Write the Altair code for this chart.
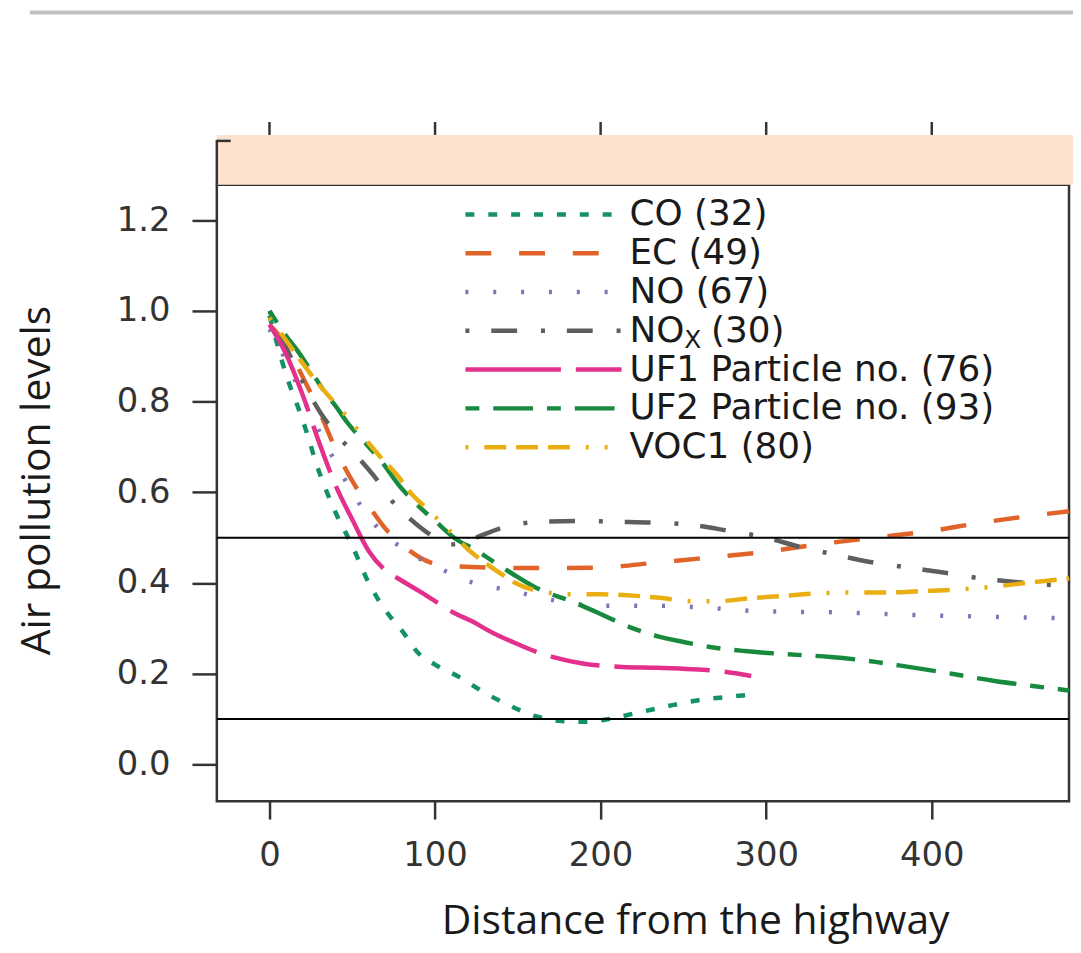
import altair as alt
import pandas as pd

# ---------------- data ----------------
SERIES = ["CO", "EC", "NO", "NOx", "UF1", "UF2", "VOC1"]
LABELS = ["CO (32)", "EC (49)", "NO (67)", "NO", "UF1 Particle no. (76)",
          "UF2 Particle no. (93)", "VOC1 (80)"]
COLORS = ["#14916c", "#e0642a", "#7b76b8", "#5e5e5e", "#e3308c", "#178a3e", "#e8ae12"]
DASHES = [[9, 14], [26, 28], [3, 25], [4, 22, 26, 24], [96, 15, 50, 15],
          [14, 14, 40, 14], [3, 16, 22, 10, 22, 10, 22, 16, 3, 16]]

CO_x = [0, 10, 20, 30, 40, 50, 60, 70, 80, 90, 100, 115, 130, 145, 160, 175, 190, 205, 220, 240, 260, 280, 295]
CO_y = [0.99, 0.86, 0.76, 0.645, 0.555, 0.482, 0.40, 0.34, 0.295, 0.245, 0.22, 0.192, 0.158, 0.13, 0.107, 0.096,
        0.094, 0.10, 0.112, 0.128, 0.142, 0.15, 0.155]

EC_x = [0, 10, 20, 30, 40, 50, 60, 70, 80, 90, 103, 132, 166, 198, 234, 265, 300, 331, 365, 396, 430, 464, 483]
EC_y = [0.97, 0.925, 0.855, 0.78, 0.695, 0.625, 0.57, 0.52, 0.485, 0.458, 0.44, 0.434, 0.433, 0.434, 0.445,
        0.456, 0.469, 0.485, 0.5, 0.513, 0.533, 0.55, 0.558]

NO_x = [0, 10, 20, 30, 40, 50, 60, 70, 80, 90, 103, 117, 132, 148, 163, 180, 196, 230, 262, 295, 344, 393, 443, 483]
NO_y = [0.96, 0.89, 0.81, 0.735, 0.665, 0.6, 0.545, 0.505, 0.478, 0.455, 0.432, 0.408, 0.393, 0.382, 0.368,
        0.357, 0.35, 0.35, 0.346, 0.338, 0.335, 0.329, 0.325, 0.322]

NOX_x = [0, 10, 20, 30, 40, 54, 64, 76, 88, 101, 109, 118, 128, 139, 150, 163, 187, 210, 232, 255, 276, 300,
         320, 341, 362, 386, 407, 430, 454, 483]
NOX_y = [1.0, 0.92, 0.845, 0.78, 0.73, 0.675, 0.632, 0.572, 0.532, 0.498, 0.485, 0.49, 0.505, 0.52, 0.53,
         0.535, 0.537, 0.535, 0.533, 0.528, 0.516, 0.5, 0.48, 0.463, 0.447, 0.434, 0.423, 0.41, 0.401, 0.393]

UF1_x = [0, 10, 20, 30, 40, 50, 60, 70, 80, 90, 100, 111, 122, 135, 147, 160, 172, 190, 213, 234, 255, 273, 291]
UF1_y = [0.97, 0.905, 0.815, 0.71, 0.615, 0.54, 0.47, 0.428, 0.405, 0.383, 0.36, 0.335, 0.316, 0.29, 0.27,
         0.25, 0.236, 0.222, 0.215, 0.213, 0.21, 0.205, 0.195]

UF2_x = [0, 10, 17, 25, 34, 40, 47, 58, 67, 79, 88, 100, 113, 124, 137, 150, 163, 182, 198, 216, 234, 250,
         266, 287, 312, 339, 362, 386, 412, 438, 461, 483]
UF2_y = [1.0, 0.945, 0.912, 0.868, 0.818, 0.79, 0.754, 0.708, 0.671, 0.612, 0.577, 0.537, 0.496, 0.474, 0.443,
         0.413, 0.386, 0.36, 0.335, 0.305, 0.283, 0.27, 0.259, 0.25, 0.243, 0.237, 0.228, 0.215, 0.2, 0.184,
         0.173, 0.163]

VOC_x = [0, 10, 20, 28, 46, 55, 67, 78, 85, 96, 108, 120, 130, 142, 148, 163, 182, 200, 216, 234, 255, 271,
         289, 308, 331, 352, 372, 393, 417, 440, 459, 483]
VOC_y = [0.985, 0.935, 0.885, 0.846, 0.77, 0.73, 0.678, 0.634, 0.6, 0.561, 0.518, 0.474, 0.445, 0.415, 0.401,
         0.382, 0.375, 0.375, 0.373, 0.368, 0.36, 0.36, 0.366, 0.371, 0.377, 0.379, 0.379, 0.382, 0.386, 0.393,
         0.401, 0.41]

X_TICKS = [0, 100, 200, 300, 400]
Y_TICKS = [0.0, 0.2, 0.4, 0.6, 0.8, 1.0, 1.2]
H_LINES = [0.5, 0.1]

# ---------------- tables ----------------
curves = {"CO": (CO_x, CO_y), "EC": (EC_x, EC_y), "NO": (NO_x, NO_y), "NOx": (NOX_x, NOX_y),
          "UF1": (UF1_x, UF1_y), "UF2": (UF2_x, UF2_y), "VOC1": (VOC_x, VOC_y)}
rows = []
for s, (xs, ys) in curves.items():
    for i, (a, b) in enumerate(zip(xs, ys)):
        rows.append({"series": s, "distance": a, "level": b, "i": i})
df = pd.DataFrame(rows)
leg_df = pd.DataFrame({"series": SERIES, "label": LABELS})
one = pd.DataFrame({"a": [0]})

X_DOM = [-31.8, 482.9]
Y_DOM = [-0.0811, 1.2785]
AX = "#333333"
TXT = "#1a1a1a"
LW = 4.5

xscale = alt.Scale(domain=X_DOM, nice=False, zero=False)
yscale = alt.Scale(domain=Y_DOM, nice=False, zero=False)
color = alt.Color("series:N", scale=alt.Scale(domain=SERIES, range=COLORS), legend=None)
dash = alt.StrokeDash("series:N", scale=alt.Scale(domain=SERIES, range=DASHES), legend=None)

x_axis = alt.Axis(values=X_TICKS, format="d", tickSize=18, tickWidth=2.5, tickColor=AX,
                  labelFont="DejaVu Sans", labelFontSize=34, labelColor=AX, labelPadding=20,
                  domain=False, grid=False,
                  title="Distance from the highway", titleFont="Open Sans", titleFontSize=41,
                  titleFontWeight="normal", titleColor=TXT, titleX=481, titleY=133,
                  titleAlign="center", titleBaseline="alphabetic")
x_enc = alt.X("distance:Q", scale=xscale, axis=x_axis)
y_enc = alt.Y("level:Q", scale=yscale,
              axis=alt.Axis(values=Y_TICKS, format=".1f", tickSize=25, tickWidth=2.5, tickColor=AX,
                            labelFont="DejaVu Sans", labelFontSize=34, labelColor=AX, labelPadding=22,
                            domain=False, grid=False,
                            title="Air pollution levels", titleFont="Open Sans", titleFontSize=41,
                            titleFontWeight="normal", titleColor=TXT, titleX=-168, titleY=297,
                            titleAngle=270, titleAlign="center", titleBaseline="alphabetic"))

lines = alt.Chart(df).mark_line(strokeWidth=LW, interpolate="monotone").encode(
    x=x_enc, y=y_enc, color=color, strokeDash=dash, order="i:Q")

hl = alt.Chart(pd.DataFrame({"h": H_LINES})).mark_rule(color="black", strokeWidth=2).encode(
    y=alt.Y("h:Q", scale=yscale, axis=None))

# strip above the panel
strip = alt.Chart(one).mark_rect(color="#fde3cf").encode(
    x=alt.value(0), x2=alt.value(870), y=alt.value(-50), y2=alt.value(0))
strip_left = alt.Chart(one).mark_rule(color=AX, strokeWidth=2.5).encode(
    x=alt.value(0), y=alt.value(-45), y2=alt.value(0))
strip_corner = alt.Chart(one).mark_rule(color=AX, strokeWidth=2.5).encode(
    x=alt.value(0), x2=alt.value(14), y=alt.value(-44))
top_ticks = alt.Chart(pd.DataFrame({"distance": X_TICKS})).mark_rule(color=AX, strokeWidth=2.5).encode(
    x=x_enc, y=alt.value(-63), y2=alt.value(-50))
shadow = alt.Chart(one).mark_rect(color="#c2c2c2").encode(
    x=alt.value(-188), x2=alt.value(870), y=alt.value(-175), y2=alt.value(-171))

# legend drawn inside the panel
leg_y = alt.Y("series:N", sort=SERIES,
              scale=alt.Scale(type="point", domain=SERIES, range=[30, 264], padding=0), axis=None)
leg_lines = alt.Chart(leg_df).mark_rule(strokeWidth=LW).encode(
    x=alt.value(250), x2=alt.value(407), y=leg_y, color=color, strokeDash=dash)
leg_text = alt.Chart(leg_df).mark_text(align="left", baseline="middle", font="DejaVu Sans",
                                       fontSize=36, color=TXT).encode(
    x=alt.value(415), y=leg_y, text="label:N")
sub_df = pd.DataFrame({"series": ["NOx"], "sub": ["X"], "rest": ["(30)"]})
leg_sub = alt.Chart(sub_df).mark_text(align="left", baseline="middle", font="DejaVu Sans",
                                      fontSize=25, color=TXT, dy=9).encode(
    x=alt.value(470), y=leg_y, text="sub:N")
leg_rest = alt.Chart(sub_df).mark_text(align="left", baseline="middle", font="DejaVu Sans",
                                       fontSize=36, color=TXT).encode(
    x=alt.value(497), y=leg_y, text="rest:N")

chart = alt.layer(
    lines, shadow, strip, strip_left, strip_corner, top_ticks, hl,
    leg_lines, leg_text, leg_sub, leg_rest
).resolve_scale(y="independent").properties(
    width=857, height=620,
    padding={"left": 210, "top": 175, "right": 4, "bottom": 142},
    autosize=alt.AutoSizeParams(type="none"),
    background="white",
).configure_view(stroke=AX, strokeWidth=2.5)

chart.save("out.html", embed_options={"renderer": "svg", "actions": False})
